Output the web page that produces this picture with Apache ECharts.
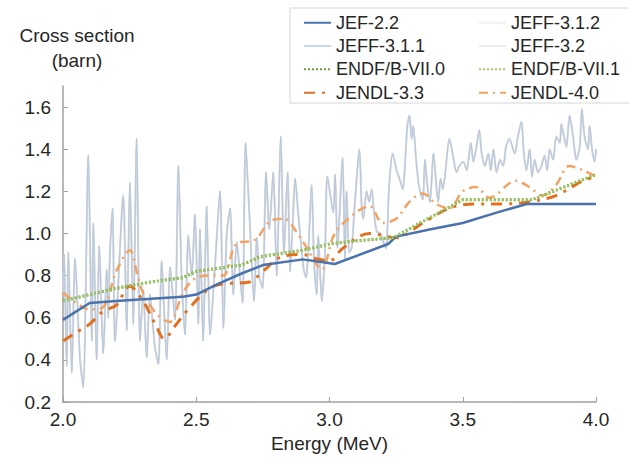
<!DOCTYPE html>
<html><head><meta charset="utf-8">
<script src="https://cdn.jsdelivr.net/npm/echarts@6/dist/echarts.min.js"></script>
<style>html,body{margin:0;padding:0;background:#fff}#c{width:629px;height:459px}</style>
</head><body><div id="c"></div>
<script>
const xTickLabels = ['2.0','2.5','3.0','3.5','4.0'];
const yTickLabels = ['0.2','0.4','0.6','0.8','1.0','1.2','1.4','1.6'];
const seriesNames = ['JEF-2.2','JEFF-3.1.2','JEFF-3.1.1','JEFF-3.2','ENDF/B-VII.0','ENDF/B-VII.1','JENDL-3.3','JENDL-4.0'];

const jef22 = [[2.0,0.59],[2.05,0.63],[2.1,0.67],[2.2,0.68],[2.33,0.69],[2.45,0.70],[2.5,0.71],[2.58,0.76],[2.67,0.81],[2.75,0.85],[2.9,0.877],[3.02,0.855],[3.22,0.95],[3.25,0.985],[3.38,1.02],[3.5,1.05],[3.63,1.10],[3.74,1.14],[4.0,1.14]];

const endf70 = [[2.0,0.68],[2.1,0.71],[2.2,0.74],[2.33,0.77],[2.45,0.79],[2.5,0.82],[2.67,0.85],[2.74,0.89],[2.9,0.92],[3.0,0.95],[3.1,0.965],[3.24,0.98],[3.34,1.05],[3.45,1.125],[3.5,1.16],[3.76,1.16],[4.0,1.28]];
const endf71 = [[2.0,0.68],[2.1,0.71],[2.2,0.74],[2.33,0.77],[2.45,0.79],[2.5,0.82],[2.67,0.85],[2.74,0.89],[2.9,0.92],[3.0,0.95],[3.1,0.965],[3.24,0.98],[3.34,1.05],[3.45,1.125],[3.5,1.16],[3.76,1.16],[4.0,1.28]];

const jendl33 = [[2.0,0.49],[2.05,0.53],[2.1,0.57],[2.15,0.63],[2.2,0.66],[2.25,0.75],[2.3,0.68],[2.35,0.56],[2.38,0.50],[2.42,0.56],[2.47,0.64],[2.55,0.74],[2.6,0.76],[2.7,0.77],[2.75,0.82],[2.82,0.89],[2.9,0.90],[2.95,0.88],[3.0,0.87],[3.05,0.93],[3.15,1.0],[3.25,0.98],[3.35,1.05],[3.45,1.12],[3.55,1.14],[3.65,1.14],[3.75,1.15],[3.85,1.18],[3.95,1.25],[4.0,1.27]];

const jendl40 = [[2.0,0.72],[2.05,0.67],[2.1,0.64],[2.15,0.65],[2.2,0.82],[2.25,0.92],[2.28,0.80],[2.3,0.72],[2.35,0.62],[2.4,0.58],[2.45,0.72],[2.5,0.79],[2.55,0.80],[2.6,0.80],[2.65,0.95],[2.72,0.97],[2.78,1.06],[2.83,1.07],[2.88,1.0],[2.92,0.92],[2.97,0.83],[3.02,1.0],[3.1,1.1],[3.15,1.13],[3.2,1.05],[3.25,1.07],[3.3,1.15],[3.35,1.19],[3.4,1.14],[3.45,1.12],[3.5,1.20],[3.55,1.22],[3.6,1.17],[3.7,1.25],[3.75,1.22],[3.8,1.18],[3.85,1.23],[3.9,1.32],[3.95,1.30],[4.0,1.27]];

const jeff = [[2.000,0.72],[2.004,0.90],[2.014,0.37],[2.020,0.91],[2.033,0.34],[2.045,0.88],[2.064,0.40],[2.076,0.27],[2.095,1.37],[2.108,0.49],[2.114,1.05],[2.126,0.40],[2.136,0.94],[2.151,0.43],[2.164,0.83],[2.170,0.60],[2.176,0.90],[2.186,1.12],[2.195,0.49],[2.226,1.18],[2.239,0.54],[2.251,1.24],[2.264,0.57],[2.276,1.45],[2.289,0.49],[2.301,0.73],[2.314,0.41],[2.326,0.71],[2.345,0.46],[2.358,0.38],[2.370,0.87],[2.389,0.40],[2.402,0.84],[2.420,0.59],[2.433,1.32],[2.445,0.80],[2.458,0.52],[2.470,0.99],[2.483,0.80],[2.495,1.09],[2.508,0.57],[2.514,1.02],[2.526,0.49],[2.539,1.13],[2.552,0.52],[2.570,0.84],[2.589,1.20],[2.602,0.55],[2.614,0.99],[2.627,1.12],[2.639,0.71],[2.652,0.96],[2.664,0.80],[2.674,0.67],[2.685,1.43],[2.699,1.10],[2.717,0.68],[2.727,0.98],[2.737,0.79],[2.749,0.74],[2.762,1.29],[2.774,1.02],[2.789,1.29],[2.802,0.80],[2.817,1.46],[2.829,0.91],[2.843,1.29],[2.852,0.82],[2.862,1.05],[2.871,1.26],[2.883,1.09],[2.902,0.84],[2.912,0.79],[2.921,0.93],[2.933,1.23],[2.942,0.87],[2.952,0.71],[2.958,0.99],[2.971,0.68],[2.983,0.90],[2.992,1.27],[3.014,1.10],[3.021,1.28],[3.030,0.93],[3.049,1.36],[3.058,0.88],[3.064,1.20],[3.074,0.91],[3.083,0.93],[3.096,1.16],[3.112,1.40],[3.121,1.12],[3.127,1.07],[3.139,1.20],[3.149,1.15],[3.158,1.21],[3.167,1.10],[3.177,1.01],[3.192,1.00],[3.202,0.96],[3.212,0.93],[3.224,1.23],[3.237,1.38],[3.252,1.30],[3.265,1.25],[3.275,1.21],[3.283,1.32],[3.292,1.51],[3.300,1.56],[3.308,1.45],[3.314,1.51],[3.325,1.35],[3.335,1.23],[3.350,1.16],[3.358,1.35],[3.367,1.23],[3.377,1.15],[3.390,1.38],[3.402,1.21],[3.408,1.15],[3.417,1.26],[3.425,1.21],[3.433,1.27],[3.450,1.45],[3.462,1.38],[3.477,1.29],[3.487,1.32],[3.502,1.34],[3.515,1.30],[3.530,1.43],[3.540,1.34],[3.550,1.40],[3.562,1.49],[3.571,1.38],[3.583,1.32],[3.596,1.38],[3.605,1.30],[3.615,1.40],[3.627,1.29],[3.640,1.35],[3.652,1.32],[3.662,1.41],[3.675,1.45],[3.695,1.38],[3.707,1.46],[3.720,1.53],[3.730,1.37],[3.739,1.30],[3.751,1.40],[3.760,1.27],[3.770,1.35],[3.782,1.29],[3.795,1.32],[3.807,1.37],[3.817,1.30],[3.826,1.40],[3.839,1.35],[3.851,1.46],[3.864,1.43],[3.870,1.52],[3.880,1.46],[3.889,1.41],[3.901,1.56],[3.914,1.46],[3.926,1.35],[3.939,1.41],[3.947,1.59],[3.957,1.46],[3.970,1.40],[3.976,1.51],[3.985,1.40],[3.995,1.34],[4.000,1.40]];

const FONT = 'Liberation Sans, Arial, sans-serif';
const chart = echarts.init(document.getElementById('c'), null, {renderer: 'svg'});

function line(name, data, color, width, type, z, smooth) {
  return {name, type: 'line', data, showSymbol: false, symbol: 'none', smooth: smooth || false,
    lineStyle: {color, width, type: type || 'solid'}, itemStyle: {color}, z: z || 2, animation: false};
}

const hiddenSym = {color: 'rgba(0,0,0,0)', borderWidth: 0, borderColor: 'rgba(0,0,0,0)', opacity: 0};
const legendCommon = {orient: 'vertical', top: 12, padding: 0, itemWidth: 27, itemHeight: 12, itemGap: 1.8,
  textStyle: {fontSize: 18, fontFamily: FONT, color: '#262626', lineHeight: 21.5},
  itemStyle: hiddenSym, z: 20, selectedMode: false};

chart.setOption({
  animation: false,
  backgroundColor: '#fff',
  grid: {left: 63, right: 33, top: 86, bottom: 57, containLabel: false},
  xAxis: {type: 'value', min: 2, max: 4, interval: 0.5,
    name: 'Energy (MeV)', nameLocation: 'middle', nameGap: 30,
    nameTextStyle: {fontSize: 19, fontFamily: FONT, color: '#262626'},
    axisLine: {lineStyle: {color: '#a0a0a0', width: 1.5}},
    axisTick: {inside: true, length: 5, lineStyle: {color: '#a0a0a0'}},
    axisLabel: {fontSize: 19, fontFamily: FONT, color: '#262626', margin: 8,
      formatter: v => xTickLabels[Math.round((v - 2) / 0.5)] || ''},
    splitLine: {show: false}},
  yAxis: {type: 'value', min: 0.2, max: 1.7, interval: 0.2,
    axisLine: {show: true, lineStyle: {color: '#a0a0a0', width: 1.5}},
    axisTick: {show: true, inside: true, length: 5, lineStyle: {color: '#a0a0a0'}},
    axisLabel: {fontSize: 19, fontFamily: FONT, color: '#262626', margin: 12, showMaxLabel: false,
      formatter: v => { const i = Math.round((v - 0.2) / 0.2); return (Math.abs(v - (0.2 + 0.2 * i)) < 1e-6 && yTickLabels[i]) ? yTickLabels[i] : ''; }},
    splitLine: {show: false}},
  graphic: [
    {type: 'rect', z: 15, zlevel: 0, shape: {x: 290, y: 8, width: 360, height: 95},
      style: {fill: '#fff', stroke: '#d6d6d6', lineWidth: 1}},
    {type: 'text', z: 15, x: 77, y: 23, style: {text: 'Cross section\n(barn)', fontSize: 19, fontFamily: FONT,
      fill: '#262626', align: 'center', verticalAlign: 'top', lineHeight: 25}}
  ],
  legend: [
    Object.assign({left: 303, data: [
      {name: 'JEF-2.2'},
      {name: 'JEFF-3.1.1', lineStyle: {color: '#c9d8ec', width: 2}},
      {name: 'ENDF/B-VII.0'},
      {name: 'JENDL-3.3'}]}, legendCommon),
    Object.assign({left: 478, data: [
      {name: 'JEFF-3.1.2', lineStyle: {color: '#eef1f5', width: 2}},
      {name: 'JEFF-3.2', lineStyle: {color: '#e9ecf0', width: 2}},
      {name: 'ENDF/B-VII.1'},
      {name: 'JENDL-4.0'}]}, legendCommon)
  ],
  series: [
    line('JEFF-3.2', jeff, '#d3d6db', 2, 'solid', 2, 0.25),
    line('JEFF-3.1.2', jeff, '#d9dde4', 1.5, 'solid', 2, 0.25),
    line('JEFF-3.1.1', jeff, '#b7c6da', 1, 'solid', 2, 0.25),
    line('JENDL-4.0', jendl40, '#f2a263', 2.5, [9, 5, 2, 5], 3, 0.35),
    line('JENDL-3.3', jendl33, '#e3701f', 3, [11, 7, 3, 7], 3, 0.35),
    line('JEF-2.2', jef22, '#4a72ad', 2.5, 'solid', 4),
    line('ENDF/B-VII.0', endf70, '#6c9f37', 3, [2, 2], 5),
    line('ENDF/B-VII.1', endf71, '#a5cc62', 2, [2, 2], 5)
  ]
});
</script></body></html>
